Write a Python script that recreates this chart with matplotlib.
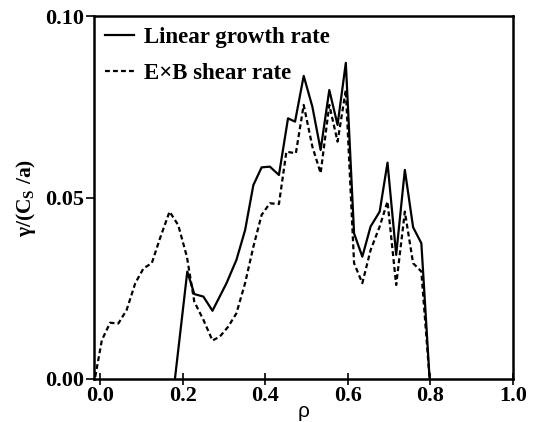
import matplotlib
matplotlib.use("Agg")
import matplotlib.pyplot as plt

plt.rcParams['mathtext.default'] = 'regular'

# Linear growth rate
rho_lin = [0.181, 0.211, 0.228, 0.250, 0.272, 0.306, 0.330, 0.351, 0.371, 0.391, 0.411, 0.433,
           0.455, 0.472, 0.493, 0.514, 0.534, 0.555, 0.575, 0.595, 0.615, 0.635, 0.655, 0.677,
           0.696, 0.717, 0.738, 0.758, 0.778, 0.798]
gam_lin = [0.0, 0.0296, 0.0234, 0.0227, 0.0188, 0.0264, 0.0328, 0.0410, 0.0534, 0.0583, 0.0585, 0.0562,
           0.0718, 0.0709, 0.0835, 0.0750, 0.0631, 0.0796, 0.0700, 0.0871, 0.0401, 0.0337, 0.0420, 0.0461,
           0.0596, 0.0342, 0.0576, 0.0418, 0.0374, 0.0]

# ExB shear rate
rho_exb = [-0.012, 0.004, 0.024, 0.044, 0.064, 0.085, 0.105, 0.125, 0.145, 0.168, 0.189, 0.210,
           0.228, 0.250, 0.272, 0.290, 0.310, 0.330, 0.351, 0.371, 0.391, 0.411, 0.433, 0.451,
           0.474, 0.493, 0.514, 0.534, 0.555, 0.575, 0.595, 0.615, 0.635, 0.655, 0.677, 0.696,
           0.717, 0.738, 0.758, 0.778, 0.798]
gam_exb = [0.0006, 0.0107, 0.0155, 0.0153, 0.0190, 0.0264, 0.0305, 0.0319, 0.0388, 0.0461, 0.0424, 0.0337,
           0.0213, 0.0163, 0.0106, 0.0117, 0.0144, 0.0181, 0.0264, 0.0364, 0.0452, 0.0484, 0.0482, 0.0626,
           0.0622, 0.0755, 0.0640, 0.0567, 0.0755, 0.0654, 0.0796, 0.0319, 0.0264, 0.0355, 0.0420, 0.0489,
           0.0259, 0.0461, 0.0319, 0.0296, 0.0]

xticks = [0.0, 0.2, 0.4, 0.6, 0.8, 1.0]
xticklabels = ['0.0', '0.2', '0.4', '0.6', '0.8', '1.0']
yticks = [0.00, 0.05, 0.10]
yticklabels = ['0.00', '0.05', '0.10']

fig = plt.figure(figsize=(5.33, 4.22), dpi=100)
ax = fig.add_axes([94/533, 1-379/422, (513-94)/533, (379-16)/422])

ax.plot(rho_lin, gam_lin, color='black', lw=1.6, label='Linear growth rate')
ax.plot(rho_exb, gam_exb, color='black', lw=1.6, ls=(0, (2.2, 1.4)), label='E\u00d7B shear rate')

ax.set_xlim(-0.015, 1.0)
ax.set_ylim(0.0, 0.10)
ax.set_xticks(xticks)
ax.set_xticklabels(xticklabels)
ax.set_yticks(yticks)
ax.set_yticklabels(yticklabels)

for lab in ax.get_xticklabels() + ax.get_yticklabels():
    lab.set_fontfamily('Liberation Serif')
    lab.set_fontweight('bold')
    lab.set_fontsize(16)

ax.tick_params(axis='x', direction='inout', length=8, width=1.2, pad=1)
ax.tick_params(axis='y', direction='out', length=6, width=1.2, pad=1)
for s in ax.spines.values():
    s.set_linewidth(1.8)

ax.set_xlabel('\u03c1', fontfamily='Liberation Sans', fontsize=15, labelpad=-3)
ax.set_ylabel('\u03b3/(C$_{S}$ /a)', fontfamily='Liberation Serif', fontweight='bold',
              fontsize=15.5, labelpad=5)

leg = ax.legend(loc='upper left', frameon=False,
                prop={'family': 'Liberation Serif', 'weight': 'bold', 'size': 16.5},
                handlelength=1.25, labelspacing=0.65, borderaxespad=0.2, handletextpad=0.45,
                borderpad=0.3)

fig.savefig('out.png', dpi=100)
